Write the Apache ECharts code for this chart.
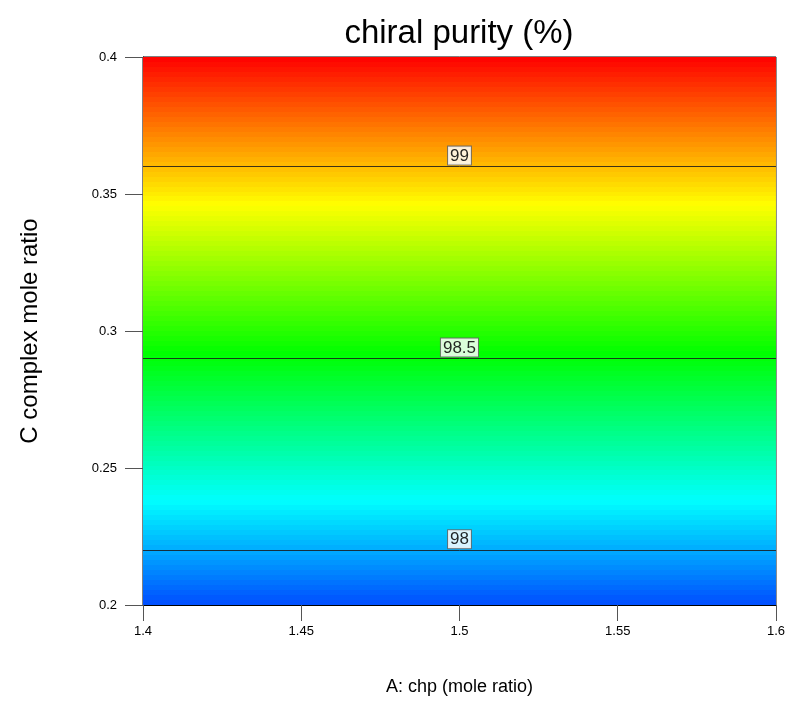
<!DOCTYPE html>
<html>
<head>
<meta charset="utf-8">
<script src="https://cdn.jsdelivr.net/npm/echarts@6/dist/echarts.min.js"></script>
<style>
  html, body { margin: 0; padding: 0; background: #fff; }
  #chart { width: 788px; height: 723px; }
</style>
</head>
<body>
<div id="chart"></div>
<script>
// A: chp (mole ratio) range and ticks
const xRange = [1.4, 1.6]
const xTicks = [1.4, 1.45, 1.5, 1.55, 1.6]
// C complex mole ratio range and ticks
const yRange = [0.2, 0.4]
const yTicks = [0.2, 0.25, 0.3, 0.35, 0.4]
// contour levels of chiral purity (%) and where they cross the C axis
const contourLevels = ['98', '98.5', '99']
const contourC = [0.220, 0.290, 0.359]

// rainbow fill, stepped bands like the original (red top -> blue bottom)
const bandCount = 110
const hueTop = 0
const hueBottom = 222
function bandStops () {
  const stops = []
  for (let i = 0; i < bandCount; i++) {
    const h = hueTop + (hueBottom - hueTop) * (i + 0.5) / bandCount
    const c = 'hsl(' + h.toFixed(1) + ',100%,50%)'
    stops.push({ offset: i / bandCount, color: c })
    stops.push({ offset: (i + 1) / bandCount, color: c })
  }
  return stops
}

const chart = echarts.init(document.getElementById('chart'))
const font = 'Liberation Sans, Arial, sans-serif'

chart.setOption({
  backgroundColor: '#fff',
  animation: false,
  title: {
    text: 'chiral purity (%)',
    left: 459,
    top: 17,
    padding: 0,
    textAlign: 'center',
    textStyle: { fontFamily: font, fontSize: 33, fontWeight: 'normal', color: '#000' }
  },
  grid: {
    left: 143,
    right: 12,
    top: 57,
    bottom: 118,
    show: true,
    borderColor: '#000',
    borderWidth: 1
  },
  xAxis: {
    type: 'value',
    min: xRange[0],
    max: xRange[1],
    interval: 0.05,
    name: 'A: chp (mole ratio)',
    nameLocation: 'middle',
    nameGap: 73,
    nameTextStyle: { fontFamily: font, fontSize: 18, color: '#000' },
    axisLine: { show: true, onZero: false, lineStyle: { color: '#000' } },
    axisTick: { show: true, length: 16, lineStyle: { color: '#555' } },
    axisLabel: {
      margin: 20,
      fontFamily: font,
      fontSize: 13,
      color: '#000',
      customValues: xTicks
    },
    splitLine: { show: false }
  },
  yAxis: {
    type: 'value',
    min: yRange[0],
    max: yRange[1],
    interval: 0.05,
    name: 'C complex mole ratio',
    nameLocation: 'middle',
    nameGap: 101,
    nameTextStyle: { fontFamily: font, fontSize: 24, color: '#000' },
    axisLine: { show: true, onZero: false, lineStyle: { color: '#000' } },
    axisTick: { show: true, length: 18, lineStyle: { color: '#555' } },
    axisLabel: {
      margin: 26,
      fontFamily: font,
      fontSize: 13,
      color: '#000',
      customValues: yTicks
    },
    splitLine: { show: false }
  },
  series: [
    {
      name: 'fill',
      type: 'line',
      data: [],
      silent: true,
      z: 1,
      markArea: {
        silent: true,
        itemStyle: {
          color: new echarts.graphic.LinearGradient(0, 0, 0, 1, bandStops())
        },
        data: [[
          { coord: [xRange[0], yRange[1]] },
          { coord: [xRange[1], yRange[0]] }
        ]]
      }
    },
    {
      name: 'contours',
      type: 'line',
      data: [],
      silent: true,
      z: 3,
      markLine: {
        silent: true,
        symbol: ['none', 'none'],
        lineStyle: { color: '#1a1a1a', width: 1, type: 'solid', opacity: 0.85 },
        label: {
          show: true,
          position: 'middle',
          distance: 2,
          fontFamily: font,
          fontSize: 17,
          color: '#000',
          backgroundColor: '#fff',
          borderColor: '#666',
          borderWidth: 1,
          padding: [1, 2, 0, 2],
          formatter: p => p.name
        },
        data: contourC.map((c, i) => ({ name: contourLevels[i], yAxis: c }))
      }
    }
  ]
})
</script>
</body>
</html>
